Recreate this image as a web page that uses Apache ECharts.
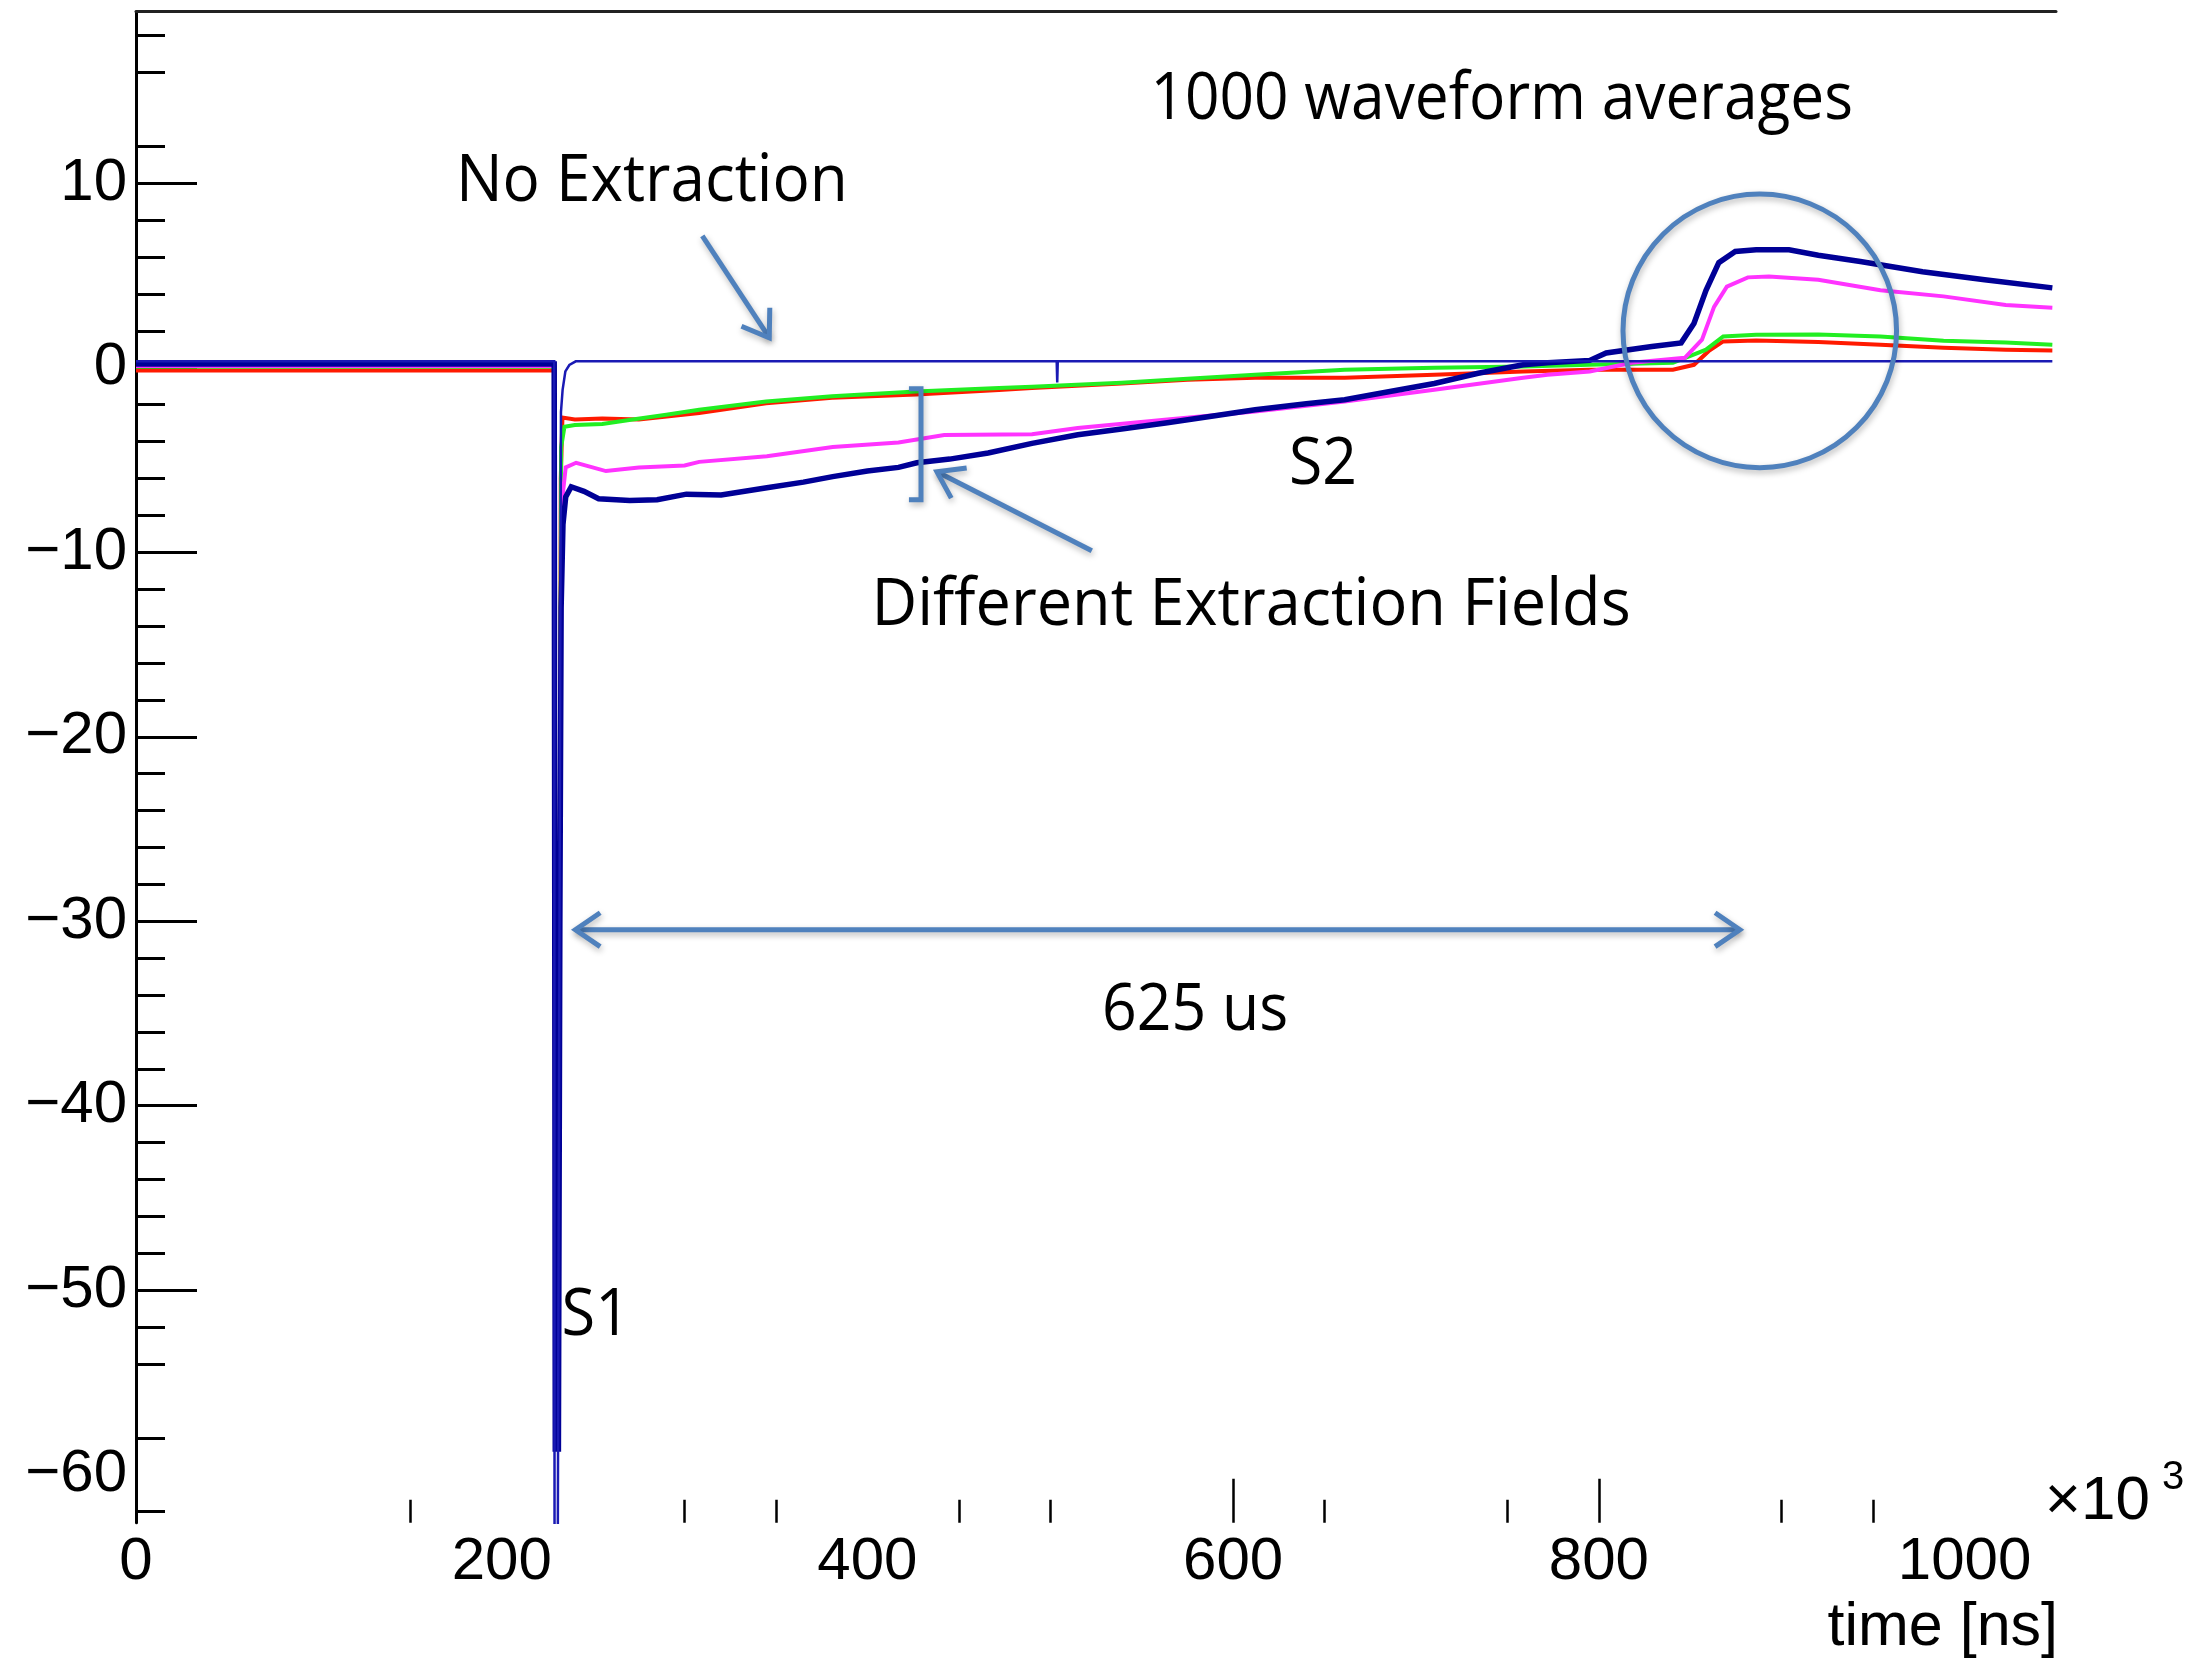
<!DOCTYPE html>
<html>
<head>
<meta charset="utf-8">
<script src="https://cdn.jsdelivr.net/npm/echarts@6/dist/echarts.min.js"></script>
<style>html,body{margin:0;padding:0;background:#fff}#c{width:2203px;height:1658px}</style>
</head>
<body>
<div id="c"></div>
<script>
// ---- axis ticks / labels ----
const xLabelValues = [0, 200, 400, 600, 800, 1000];
const xShortTicks = [150, 300, 350, 450, 500, 650, 750, 900, 950];
const xLongTicks = [600, 800];
const yLabelValues = [-60, -50, -40, -30, -20, -10, 0, 10];
const yMajorTicks = [-50, -40, -30, -20, -10, 0, 10];
const yMinorTicks = [18, 16, 12, 8, 6, 4, 2, -2, -4, -6, -8, -12, -14, -16, -18, -22, -24, -26, -28,
  -32, -34, -36, -38, -42, -44, -46, -48, -52, -54, -58, -62];

// ---- series (time in 10^3 ns, amplitude) ----
const noExtractionX = [0, 228.7, 228.9, 230.6, 232.4, 233.3, 234.8, 237, 240.5, 503.5, 503.8, 504.1, 1048];
const noExtractionY = [0.35, 0.35, -66, -66, -2.4, -1.2, -0.2, 0.15, 0.35, 0.35, -0.8, 0.35, 0.35];

const navyX = [0, 228.7, 229.3, 231, 231.8, 232.5, 233.5, 235, 238, 245, 253, 270, 285, 301, 320, 345, 365, 381, 400, 417,
  427, 445, 466, 490, 515, 540, 564, 590, 612, 640, 661, 685, 710, 734, 758.6, 772, 795, 804, 829, 845,
  852, 858.6, 865.6, 874.6, 886, 904, 920, 943, 977, 1011, 1048];
const navyY = [0.2, 0.2, -58.6, -58.6, -30, -13, -8.5, -7, -6.45, -6.7, -7.1, -7.2, -7.15, -6.85, -6.9, -6.5, -6.2, -5.9, -5.6, -5.4,
  -5.15, -4.95, -4.62, -4.1, -3.63, -3.3, -2.98, -2.6, -2.28, -1.95, -1.73, -1.3, -0.85, -0.3, 0.16, 0.27, 0.4, 0.8, 1.15, 1.35,
  2.4, 4.2, 5.7, 6.3, 6.4, 6.4, 6.1, 5.76, 5.2, 4.77, 4.33];

const magentaX = [0, 228.7, 229.3, 231, 232, 233, 235, 240.7, 257, 275, 300, 308, 345, 381, 417, 442, 490, 515, 564, 612,
  661, 710, 758.6, 772, 795, 818, 847, 856.4, 863, 870, 881.5, 893, 920, 954, 988.5, 1022.5, 1048];
const magentaY = [0.1, 0.1, -57, -57, -19, -7.2, -5.4, -5.15, -5.6, -5.4, -5.3, -5.1, -4.8, -4.3, -4.05, -3.65, -3.6, -3.27, -2.8, -2.37,
  -1.83, -1.19, -0.54, -0.38, -0.2, 0.27, 0.54, 1.52, 3.3, 4.4, 4.9, 4.95, 4.77, 4.2, 3.87, 3.4, 3.25];

const greenX = [0, 228.7, 229.3, 231, 232.5, 234.3, 240, 255, 271.6, 290, 308, 344.6, 380.7, 426.5, 471.9, 490, 539, 575, 612, 661,
  710, 758.6, 795, 840.5, 858.6, 868, 886, 920, 954, 988.5, 1022.5, 1048];
const greenY = [0.05, 0.05, -56, -56, -4.3, -3.2, -3.1, -3.05, -2.8, -2.55, -2.28, -1.83, -1.55, -1.28, -1.1, -1.03, -0.81, -0.6, -0.38, -0.11,
  0, 0.07, 0.16, 0.27, 0.98, 1.7, 1.79, 1.8, 1.7, 1.46, 1.37, 1.25];

const redX = [0, 228.7, 229.3, 231, 232.3, 233.2, 240, 255, 275, 308, 344.6, 380.7, 426.5, 471.9, 490, 539, 575, 612, 661, 710,
  758.6, 795, 840.5, 852, 860, 868, 886, 920, 954, 988.5, 1022.5, 1048];
const redY = [-0.15, -0.15, -55, -55, -6, -2.7, -2.8, -2.75, -2.8, -2.45, -1.92, -1.63, -1.45, -1.2, -1.1, -0.85, -0.65, -0.54, -0.54, -0.38,
  -0.2, -0.11, -0.11, 0.16, 0.9, 1.43, 1.48, 1.4, 1.25, 1.08, 0.98, 0.94];

// ---- annotations (in data coordinates) ----
const annoTexts = ['1000 waveform averages', 'No Extraction', 'S2', 'Different Extraction Fields', '625 us', 'S1'];
const annoTextX = [746.9, 282.1, 649.1, 609.8, 579.2, 251.5];
const annoTextY = [14.5, 10.05, -5.3, -12.95, -34.9, -51.4];

const arrowNoExt = [[309.7, 7.15], [346.3, 1.63]];
const arrowFields = [[522.7, -9.92], [438, -5.64]];
const spanArrow = [[240.3, -30.46], [877.1, -30.46]];
const bracketX = [422.7, 429.3];
const bracketY = [-1.14, -7.15];
const circleCenter = [888, 2.0];
const circleRadiusX = 74.8;

const axisFont = '"Liberation Sans", Arial, Helvetica, sans-serif';
const annoFont = '"Open Sans", "Noto Sans", sans-serif';
const annoColor = '#4f81bd';

function pairs(xs, ys) { return xs.map((x, i) => [x, ys[i]]); }
function line(name, xs, ys, color, width, z) {
  return {
    type: 'line', name, data: pairs(xs, ys), showSymbol: false, symbol: 'none',
    lineStyle: { color, width, join: 'miter' }, itemStyle: { color }, z, clip: true, silent: true,
    xAxisIndex: 0, yAxisIndex: 0
  };
}

const chart = echarts.init(document.getElementById('c'));
const option = {
  backgroundColor: '#ffffff',
  animation: false,
  grid: { left: 136, right: 147, top: 11.7, bottom: 135.3, containLabel: false, outerBoundsMode: 'none' },
  xAxis: [
    {
      type: 'value', min: 0, max: 1050, position: 'bottom',
      axisLine: { show: false, onZero: false },
      axisTick: { show: true, inside: true, length: 23, customValues: xShortTicks, lineStyle: { color: '#000', width: 2.5 } },
      axisLabel: { show: true, customValues: xLabelValues, margin: 10, fontSize: 60, fontFamily: axisFont, color: '#000',
        formatter: v => String(v) },
      splitLine: { show: false }
    },
    {
      type: 'value', min: 0, max: 1050, position: 'bottom',
      axisLine: { show: false, onZero: false },
      axisTick: { show: true, inside: true, length: 44, customValues: xLongTicks, lineStyle: { color: '#000', width: 2.5 } },
      axisLabel: { show: false },
      splitLine: { show: false }
    },
    {
      type: 'value', min: 0, max: 1050, position: 'top',
      axisLine: { show: true, onZero: false, lineStyle: { color: '#222', width: 3 } },
      axisTick: { show: false }, axisLabel: { show: false }, splitLine: { show: false }
    }
  ],
  yAxis: [
    {
      type: 'value', min: -62.6, max: 19.3, position: 'left',
      axisLine: { show: true, onZero: false, lineStyle: { color: '#000', width: 3 } },
      axisTick: { show: true, inside: true, length: 61, customValues: yMajorTicks, lineStyle: { color: '#000', width: 3 } },
      axisLabel: {
        show: true, customValues: yLabelValues, margin: 9, fontSize: 60, fontFamily: axisFont, color: '#000',
        formatter: v => String(v).replace('-', '\u2212')
      },
      splitLine: { show: false }
    },
    {
      type: 'value', min: -62.6, max: 19.3, position: 'left',
      axisLine: { show: false, onZero: false },
      axisTick: { show: true, inside: true, length: 29, customValues: yMinorTicks, lineStyle: { color: '#000', width: 3 } },
      axisLabel: { show: false }, splitLine: { show: false }
    }
  ],
  series: [
    line('red', redX, redY, '#ff1a00', 4, 2),
    line('green', greenX, greenY, '#22ee22', 4, 3),
    line('magenta', magentaX, magentaY, '#ff33ff', 4, 4),
    line('navy', navyX, navyY, '#000096', 5.5, 5),
    line('noExtraction', noExtractionX, noExtractionY, '#1a1ab4', 2.5, 6)
  ]
};
chart.setOption(option);

// ---- overlay annotations positioned through the axes ----
const P = p => chart.convertToPixel({ xAxisIndex: 0, yAxisIndex: 0 }, p);
const shadow = { shadowBlur: 6, shadowOffsetX: 1, shadowOffsetY: 3, shadowColor: 'rgba(0,0,0,0.28)' };
function chevron(tip, from, len, ang) {
  const dx = from[0] - tip[0], dy = from[1] - tip[1], L = Math.hypot(dx, dy);
  const ux = dx / L, uy = dy / L;
  const rot = a => [tip[0] + len * (ux * Math.cos(a) - uy * Math.sin(a)), tip[1] + len * (ux * Math.sin(a) + uy * Math.cos(a))];
  return [rot(ang), tip, rot(-ang)];
}
function arrowEls(fromD, toD, both) {
  const a = P(fromD), b = P(toD);
  const st = () => Object.assign({ stroke: annoColor, lineWidth: 5, fill: null, lineJoin: 'miter' }, shadow);
  const els = [
    { type: 'line', shape: { x1: a[0], y1: a[1], x2: b[0], y2: b[1] }, style: st(), z: 100 },
    { type: 'polyline', shape: { points: chevron(b, a, 30, 0.6) }, style: st(), z: 100 }
  ];
  if (both) els.push({ type: 'polyline', shape: { points: chevron(a, b, 30, 0.6) }, style: st(), z: 100 });
  return els;
}
const graphics = [];
graphics.push(...arrowEls(arrowNoExt[0], arrowNoExt[1], false));
graphics.push(...arrowEls(arrowFields[0], arrowFields[1], false));
graphics.push(...arrowEls(spanArrow[0], spanArrow[1], true));
const bTop1 = P([bracketX[0], bracketY[0]]), bTop2 = P([bracketX[1], bracketY[0]]);
const bBot2 = P([bracketX[1], bracketY[1]]), bBot1 = P([bracketX[0], bracketY[1]]);
graphics.push({ type: 'polyline', shape: { points: [bTop1, bTop2, bBot2, bBot1] }, style: Object.assign({ stroke: annoColor, lineWidth: 5, fill: null, lineJoin: 'miter' }, shadow), z: 100 });
const cc = P(circleCenter), ce = P([circleCenter[0] + circleRadiusX, circleCenter[1]]);
graphics.push({ type: 'circle', shape: { cx: cc[0], cy: cc[1], r: ce[0] - cc[0] }, style: Object.assign({ stroke: annoColor, lineWidth: 5, fill: null }, shadow), z: 100 });
const annoScale = [0.915, 0.94, 0.92, 0.955, 0.92, 0.93];
annoTexts.forEach((t, i) => {
  const p = P([annoTextX[i], annoTextY[i]]);
  graphics.push({
    type: 'text', x: p[0], y: p[1], scaleX: annoScale[i], z: 110,
    style: { text: t, fontSize: 66, fontFamily: annoFont, fill: '#000', align: 'center', verticalAlign: 'middle' }
  });
});
// axis decorations (ROOT-style exponent and title)
graphics.push({ type: 'text', x: 2150, y: 1502, z: 110, style: { text: '\u00d710', fontSize: 62, fontFamily: axisFont, fill: '#000', align: 'right', verticalAlign: 'middle' } });
graphics.push({ type: 'text', x: 2162, y: 1478, z: 110, style: { text: '3', fontSize: 40, fontFamily: axisFont, fill: '#000', align: 'left', verticalAlign: 'middle' } });
graphics.push({ type: 'text', x: 2058, y: 1628, z: 110, style: { text: 'time [ns]', fontSize: 61, fontFamily: axisFont, fill: '#000', align: 'right', verticalAlign: 'middle' } });
chart.setOption({ graphic: { elements: graphics } });
</script>
</body>
</html>
